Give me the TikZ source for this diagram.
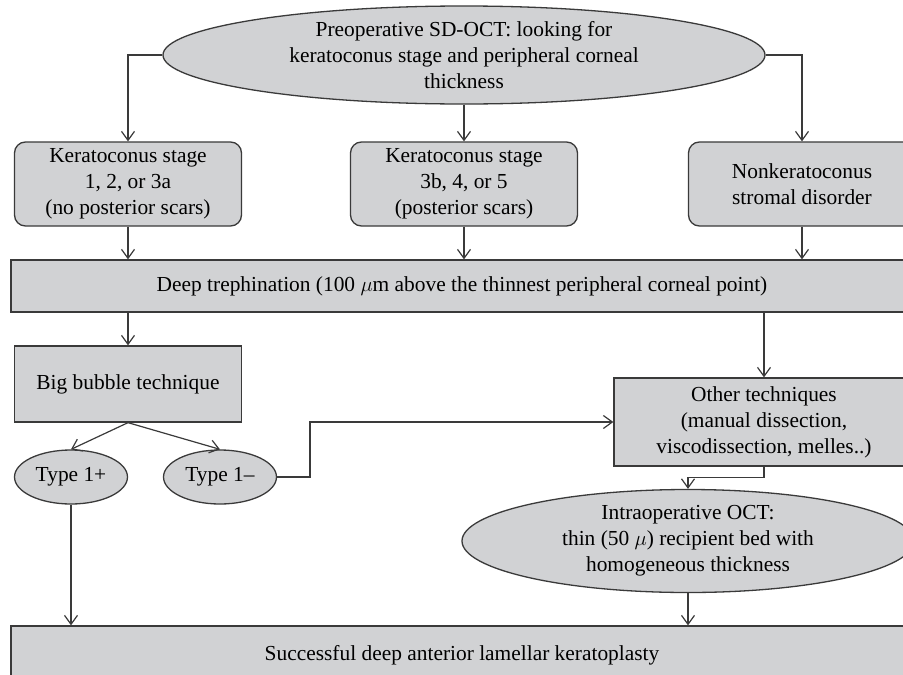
\documentclass[tikz,border=0pt]{standalone}
\usepackage{fontspec}
\setmainfont{Liberation Serif}
\usepackage{xcolor}
\usetikzlibrary{shapes.geometric, arrows.meta}
\definecolor{boxgray}{HTML}{D1D2D4}
\definecolor{linegray}{HTML}{3A3A3A}

\tikzset{
  txt/.style={align=center, font=\fontsize{21.4}{26}\selectfont, text=black, inner sep=0pt},
  oval/.style={ellipse, draw=linegray, fill=boxgray, line width=1.3pt, inner sep=0pt},
  stagebox/.style={rectangle, rounded corners=11pt, draw=linegray, fill=boxgray, line width=1.3pt,
    minimum width=227pt, minimum height=84pt, txt},
  plainbox/.style={rectangle, draw=linegray, fill=boxgray, line width=1.3pt, txt},
  flow/.style={-{Straight Barb[length=9pt, width=13pt]}, draw=linegray, line width=1.2pt}
}

\begin{document}
\begin{tikzpicture}[x=1pt, y=-1pt]
   % Page (pixel grid of the reference)
   \clip (0,0) rectangle (903,675);
   \fill[white] (0,0) rectangle (903,675);

    % Top level
    \node[oval, minimum width=602pt, minimum height=98pt,
      label={[txt]center:Preoperative SD-OCT: looking for\\keratoconus stage and peripheral corneal\\thickness}] (pre) at (464,55) {};

    % Stages
    \node[stagebox] (stageA) at (128,184) {Keratoconus stage\\1, 2, or 3a\\(no posterior scars)};
    \node[stagebox] (stageB) at (464,184) {Keratoconus stage\\3b, 4, or 5\\(posterior scars)};
    \node[stagebox] (nonkc) at (802,184) {Nonkeratoconus\\stromal disorder};

    \node[plainbox, minimum width=902pt, minimum height=52pt] (treph) at (462,286)
      {Deep trephination (100 $\mu$m above the thinnest peripheral corneal point)};

    % Techniques
    \node[plainbox, minimum width=227pt, minimum height=76pt] (bigbub) at (128,384) {Big bubble technique};
    \node[oval, minimum width=113pt, minimum height=54pt, txt] (typeP) at (71,477) {Type 1+};
    \node[oval, minimum width=113pt, minimum height=54pt, txt] (typeM) at (220,477) {Type 1--};
    \node[plainbox, minimum width=300pt, minimum height=88pt] (other) at (764,422)
      {Other techniques\\(manual dissection,\\viscodissection, melles..)};
    \node[oval, minimum width=452pt, minimum height=103pt,
      label={[txt]center:Intraoperative OCT:\\thin (50 $\mu$) recipient bed with\\homogeneous thickness}] (intra) at (688,541) {};

    \node[plainbox, minimum width=902pt, minimum height=58pt] (dalk) at (462,655)
      {Successful deep anterior lamellar keratoplasty};

    % Connectors
    \draw[flow] (pre.west) -| (stageA.north);
    \draw[flow] (pre.south) -- (stageB.north);
    \draw[flow] (pre.east) -| (nonkc.north);
    \draw[flow] (stageA.south) -- (stageA.south |- treph.north);
    \draw[flow] (stageB.south) -- (stageB.south |- treph.north);
    \draw[flow] (nonkc.south) -- (nonkc.south |- treph.north);
    \draw[flow] (bigbub.north |- treph.south) -- (bigbub.north);
    \draw[flow] (other.north |- treph.south) -- (other.north);
    \draw[flow] (bigbub.south) -- (typeP.north);
    \draw[flow] (bigbub.south) -- (typeM.north);
    \draw[flow] (typeM.east) -- (310,477) |- (other.west);
    \draw[flow] (other.south) -- ++(0,11) -| (intra.north);
    \draw[flow] (typeP.south) -- (typeP.south |- dalk.north);
    \draw[flow] (intra.south) -- (intra.south |- dalk.north);
\end{tikzpicture}
\end{document}
